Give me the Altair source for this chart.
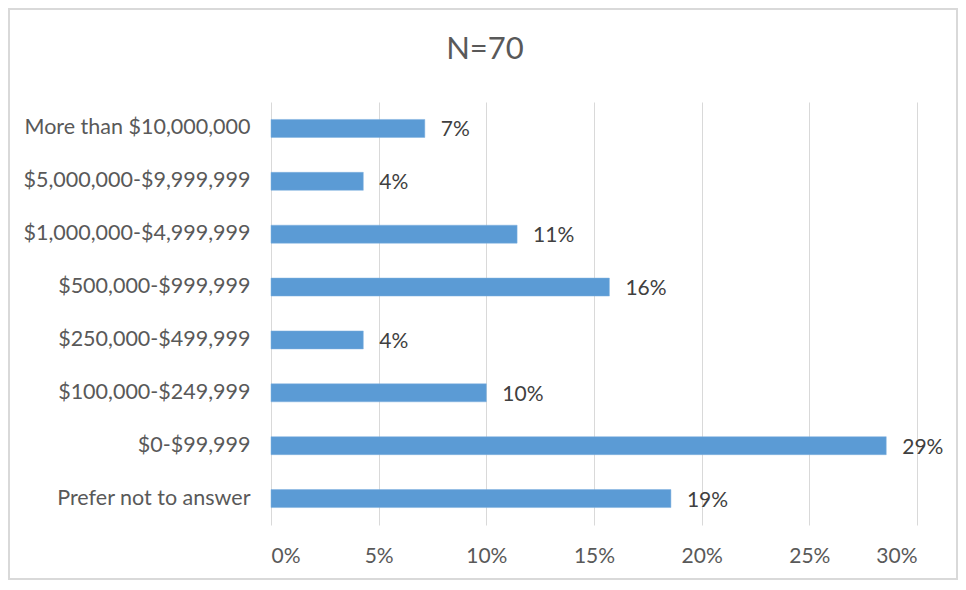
import altair as alt
import pandas as pd

title_text = "N=70"
categories = [
    "More than $10,000,000",
    "$5,000,000-$9,999,999",
    "$1,000,000-$4,999,999",
    "$500,000-$999,999",
    "$250,000-$499,999",
    "$100,000-$249,999",
    "$0-$99,999",
    "Prefer not to answer",
]
counts = [5, 3, 8, 11, 3, 7, 20, 13]
total_n = 70
shares = [c / total_n for c in counts]

df = pd.DataFrame({"category": categories, "share": shares})

FONT = "Lato"
PLOT_W, PLOT_H = 646, 423
PAD_L, PAD_T = 263, 94
TOTAL_W, TOTAL_H = 950, 572

y_enc = alt.Y("category:N", sort=categories, title=None,
              scale=alt.Scale(paddingInner=0.66, paddingOuter=0.33),
              axis=alt.Axis(domain=False, ticks=False, labelPadding=21,
                            labelFont=FONT, labelFontSize=21.5, labelColor="#595959",
                            grid=False, labelLimit=400))
x_enc = alt.X("share:Q", title=None,
              scale=alt.Scale(domain=[0, 0.30], nice=False),
              axis=alt.Axis(format=".0%", values=[0, 0.05, 0.10, 0.15, 0.20, 0.25, 0.30],
                            domain=False, ticks=False, labelPadding=20,
                            labelFont=FONT, labelFontSize=21, labelColor="#595959",
                            grid=True, gridColor="#D9D9D9", gridWidth=1))

bars = alt.Chart(df).mark_bar(color="#5B9BD5", stroke="#7FB0DE", strokeWidth=0.5).encode(
    x=x_enc, y=y_enc)

labels = alt.Chart(df).mark_text(align="left", baseline="middle", dx=16, dy=2,
                                 font=FONT, fontSize=21, color="#404040").encode(
    x="share:Q", y=alt.Y("category:N", sort=categories),
    text=alt.Text("share:Q", format=".0%"))

border = alt.Chart(alt.Data(values=[{}])).mark_rect(
    fillOpacity=0, stroke="#D9D9D9", strokeWidth=2).encode(
    x=alt.value(-PAD_L + 1), x2=alt.value(TOTAL_W - PAD_L - 1),
    y=alt.value(-PAD_T + 1), y2=alt.value(TOTAL_H - PAD_T - 1))

title = alt.Chart(alt.Data(values=[{"t": title_text}])).mark_text(
    align="center", baseline="alphabetic", font=FONT, fontSize=31,
    color="#595959").encode(
    text="t:N", x=alt.value(485 - 8 - PAD_L), y=alt.value(59 - 8 - PAD_T))

chart = alt.layer(bars, labels, border, title).properties(
    width=PLOT_W, height=PLOT_H,
    autosize=alt.AutoSizeParams(type="none"),
    padding={"left": PAD_L, "top": PAD_T,
             "right": TOTAL_W - PAD_L - PLOT_W, "bottom": TOTAL_H - PAD_T - PLOT_H},
    background="white",
).configure_view(stroke=None)

chart.save("out.html", embed_options={"renderer": "svg", "actions": False})
